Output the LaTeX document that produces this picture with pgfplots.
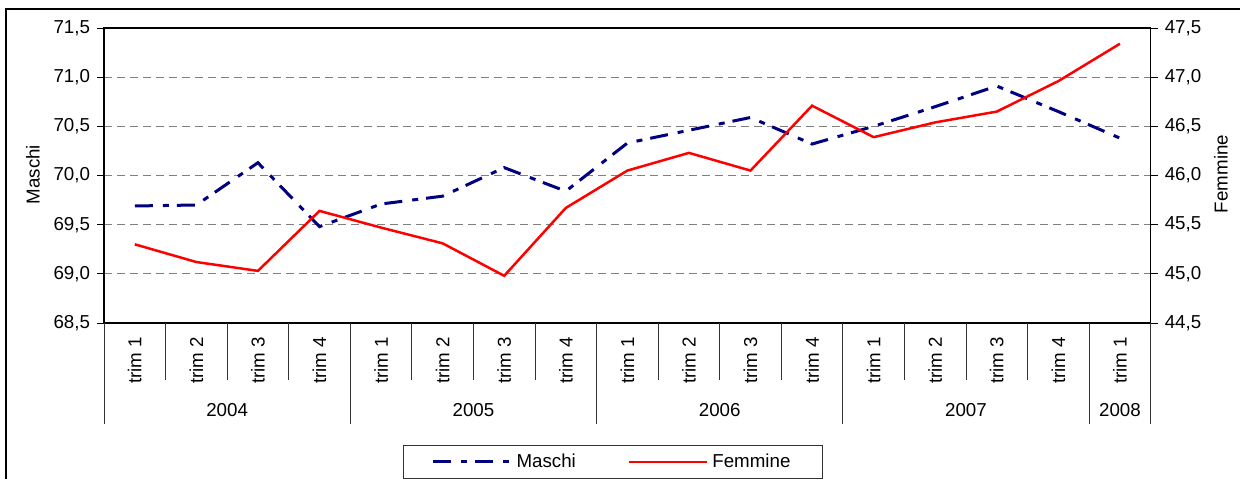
\documentclass[border=0pt]{standalone}
\usepackage{fontspec}
\setmainfont{Liberation Sans}
\usepackage{pgfplots}
\usepackage{pgfplotstable}
\pgfplotsset{compat=1.18}
\definecolor{maschiblu}{HTML}{000080}
\definecolor{griglia}{HTML}{808080}

\pgfplotstableread{
x maschi femmine
0 69.69 45.30
1 69.70 45.12
2 70.13 45.03
3 69.48 45.64
4 69.71 45.47
5 69.79 45.31
6 70.08 44.98
7 69.84 45.67
8 70.33 46.05
9 70.46 46.23
10 70.59 46.05
11 70.32 46.71
12 70.50 46.39
13 70.70 46.54
14 70.91 46.65
15 70.65 46.96
16 70.38 47.34
}\dati

\newcommand{\fnt}{\fontsize{9.4}{11}\selectfont}

\pgfplotsset{
  base/.style={
    scale only axis, width=523.35bp, height=147.5bp,
    at={(52bp,78bp)}, anchor=south west,
    xmin=-0.5, xmax=16.5,
    tick label style={font=\fnt},
    label style={font=\fnt},
    /pgf/number format/assume math mode=true,
    yticklabel style={/pgf/number format/fixed, /pgf/number format/fixed zerofill,
      /pgf/number format/precision=1, /pgf/number format/use comma},
    y tick style={black, line width=0.5bp},
    tick align=outside, major tick length=3.5bp,
    axis line style={black, line width=0.6bp},
    clip=false,
  },
  maschistyle/.style={maschiblu, line width=1.5bp, dash pattern=on 9bp off 5bp on 3bp off 4bp},
  femminestyle/.style={red, line width=1.25bp},
}

\begin{document}
\begin{tikzpicture}[font=\fnt]
\draw[line width=0.6bp] (3bp,-5bp) -- (3bp,235bp) -- (625bp,235bp);

\begin{axis}[base,
  ymin=68.5, ymax=71.5, ytick={68.5,69,...,71.5},
  ytick pos=left,
  ymajorgrids, grid style={griglia, line width=0.5bp, dash pattern=on 4bp off 2.5bp},
  xtick={0,...,16},
  xticklabels={trim 1,trim 2,trim 3,trim 4,trim 1,trim 2,trim 3,trim 4,trim 1,trim 2,trim 3,trim 4,trim 1,trim 2,trim 3,trim 4,trim 1},
  xtick style={draw=none},
  xticklabel style={rotate=90, anchor=east},
  ylabel={Maschi},
  every axis y label/.style={at={(axis description cs:-0.0678,0.503)}, rotate=90, anchor=center},
]
\addplot[maschistyle] table[x=x,y=maschi]{\dati};
\pgfplotsinvokeforeach{0.5,1.5,2.5,4.5,5.5,6.5,8.5,9.5,10.5,12.5,13.5,14.5}{
  \draw[black!80, line width=0.5bp] (axis cs:#1,68.5) -- ([yshift=-28.5bp]axis cs:#1,68.5);
}
\pgfplotsinvokeforeach{-0.5,3.5,7.5,11.5,15.5,16.5}{
  \draw[black!80, line width=0.5bp] (axis cs:#1,68.5) -- ([yshift=-50.5bp]axis cs:#1,68.5);
}
\node at (axis cs:1.5,68.5) [yshift=-43.5bp] {2004};
\node at (axis cs:5.5,68.5) [yshift=-43.5bp] {2005};
\node at (axis cs:9.5,68.5) [yshift=-43.5bp] {2006};
\node at (axis cs:13.5,68.5) [yshift=-43.5bp] {2007};
\node at (axis cs:16,68.5) [yshift=-43.5bp] {2008};
\end{axis}

\begin{axis}[base,
  ymin=44.5, ymax=47.5, ytick={44.5,45,...,47.5},
  axis y line*=right, axis x line=none,
  ylabel={Femmine},
  every axis y label/.style={at={(axis description cs:1.067,0.505)}, rotate=90, anchor=center},
  legend columns=2,
  legend style={at={(0.4863,-0.471)}, anchor=center, font=\fnt,
    draw=black!80, line width=0.6bp, inner xsep=14bp, inner ysep=2bp,
    /tikz/every even column/.append style={column sep=24bp}},
  legend image code/.code={\draw[#1] (0bp,0bp) -- (39bp,0bp);},
]
\addlegendimage{maschistyle}
\addlegendentry{Maschi}
\addplot[femminestyle] table[x=x,y=femmine]{\dati};
\addlegendentry{Femmine}
\end{axis}

\pgfresetboundingbox
\path[use as bounding box] (0,0) rectangle (620bp,239.5bp);
\end{tikzpicture}
\end{document}
